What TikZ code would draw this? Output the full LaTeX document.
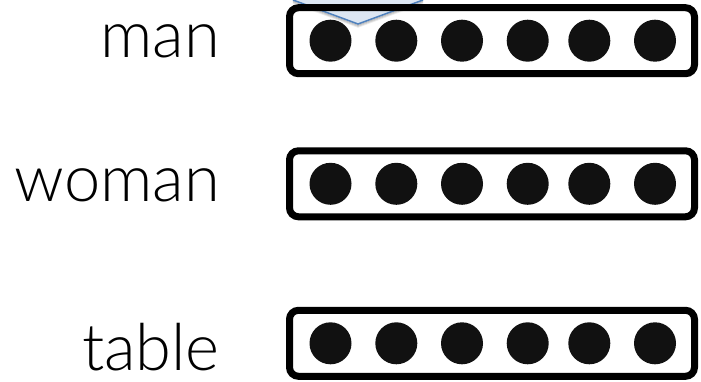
\documentclass[tikz,border=0pt]{standalone}
\usepackage{fontspec}
\setmainfont{Lato Light}
\definecolor{calloutfill}{HTML}{DCE6F2}
\definecolor{calloutline}{HTML}{4F81BD}
\definecolor{dotcol}{HTML}{111111}
\begin{document}
\begin{tikzpicture}[x=1pt,y=-1pt,
  vecbox/.style={draw=black, line width=7pt, rounded corners=9pt, rectangle, minimum width=405pt, minimum height=66pt, inner sep=0pt},
  dot/.style={circle, fill=dotcol, minimum size=42pt, inner sep=0pt},
  word/.style={anchor=base east, inner sep=0pt, font=\fontsize{65}{65}\selectfont}]
\useasboundingbox (0,0) rectangle (701,382);
% callout pointer (cropped at top)
\coordinate (tip) at (358,24);
\coordinate (cl) at (293,0);
\coordinate (cr) at (423,0);
\foreach \o/\op in {3/0.08,2/0.12,1/0.18}{
  \draw[black, opacity=\op, line width=1.5pt] ([yshift=-\o pt]cl) -- ([yshift=-\o pt]tip) -- ([yshift=-\o pt]cr);
}
\fill[calloutfill] (cl) -- (tip) -- (cr) -- cycle;
\draw[calloutline, line width=1.5pt] (cl) -- (tip) -- (cr);
% boxes
\foreach \n/\y in {1/40.7,2/183.8,3/343.3}{
  \node[vecbox] (box\n) at (492,\y) {};
  \foreach \i/\x in {1/330.5,2/396.3,3/462,4/527.7,5/589.3,6/655}{
    \node[dot] (d\n\i) at (\x,\y) {};
  }
}
% words
\node[word] (wman) at (220,58) {man};
\node[word] (wwoman) at (220,202) {woman};
\node[word] (wtable) at (220,370) {table};
\end{tikzpicture}
\end{document}
